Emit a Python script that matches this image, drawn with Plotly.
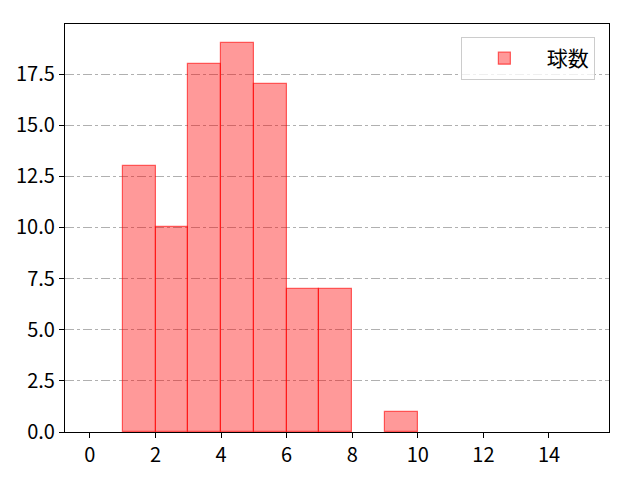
import plotly.graph_objects as go

# histogram bins (left edge) and counts
bin_left = [1, 2, 3, 4, 5, 6, 7, 9]
counts = [13, 10, 18, 19, 17, 7, 7, 1]
series_name = "球数"

x_ticks = [0, 2, 4, 6, 8, 10, 12, 14]
y_ticks = [0, 2.5, 5, 7.5, 10, 12.5, 15, 17.5]

fig = go.Figure()
fig.add_trace(go.Bar(
    x=[b + 0.5 for b in bin_left], y=counts, width=1, name=series_name,
    marker=dict(color="rgba(255,0,0,0.4)", line=dict(color="rgba(255,0,0,0.6)", width=1.2)),
    showlegend=True,
))

axis_common = dict(
    showline=True, linecolor="black", linewidth=1.2, mirror=True,
    ticks="outside", ticklen=5, tickcolor="black",
    showgrid=False, zeroline=False, layer="above traces", automargin=False,
    tickfont=dict(size=20, color="black"),
)
fig.update_xaxes(range=[-0.76, 15.83], tickvals=x_ticks, **axis_common)
fig.update_yaxes(range=[0, 19.95], tickvals=y_ticks, ticktext=[f"{v:.1f}" for v in y_ticks],
                 **axis_common)
fig.update_yaxes(showgrid=True, gridcolor="#b0b0b0", gridwidth=1, griddash="dashdot")

# page body adds an 8px offset, so margins are shifted to compensate
fig.update_layout(
    width=640, height=480,
    margin=dict(l=57, r=39, t=16, b=56, autoexpand=False),
    plot_bgcolor="white", paper_bgcolor="white",
    font=dict(family="Noto Sans CJK JP", color="black"),
    bargap=0,
    legend=dict(x=0.974, y=0.968, xanchor="right", yanchor="top",
                bordercolor="#cccccc", borderwidth=1, bgcolor="rgba(255,255,255,0.8)",
                itemwidth=75, font=dict(size=21)),
)
fig.write_html("out.html")
